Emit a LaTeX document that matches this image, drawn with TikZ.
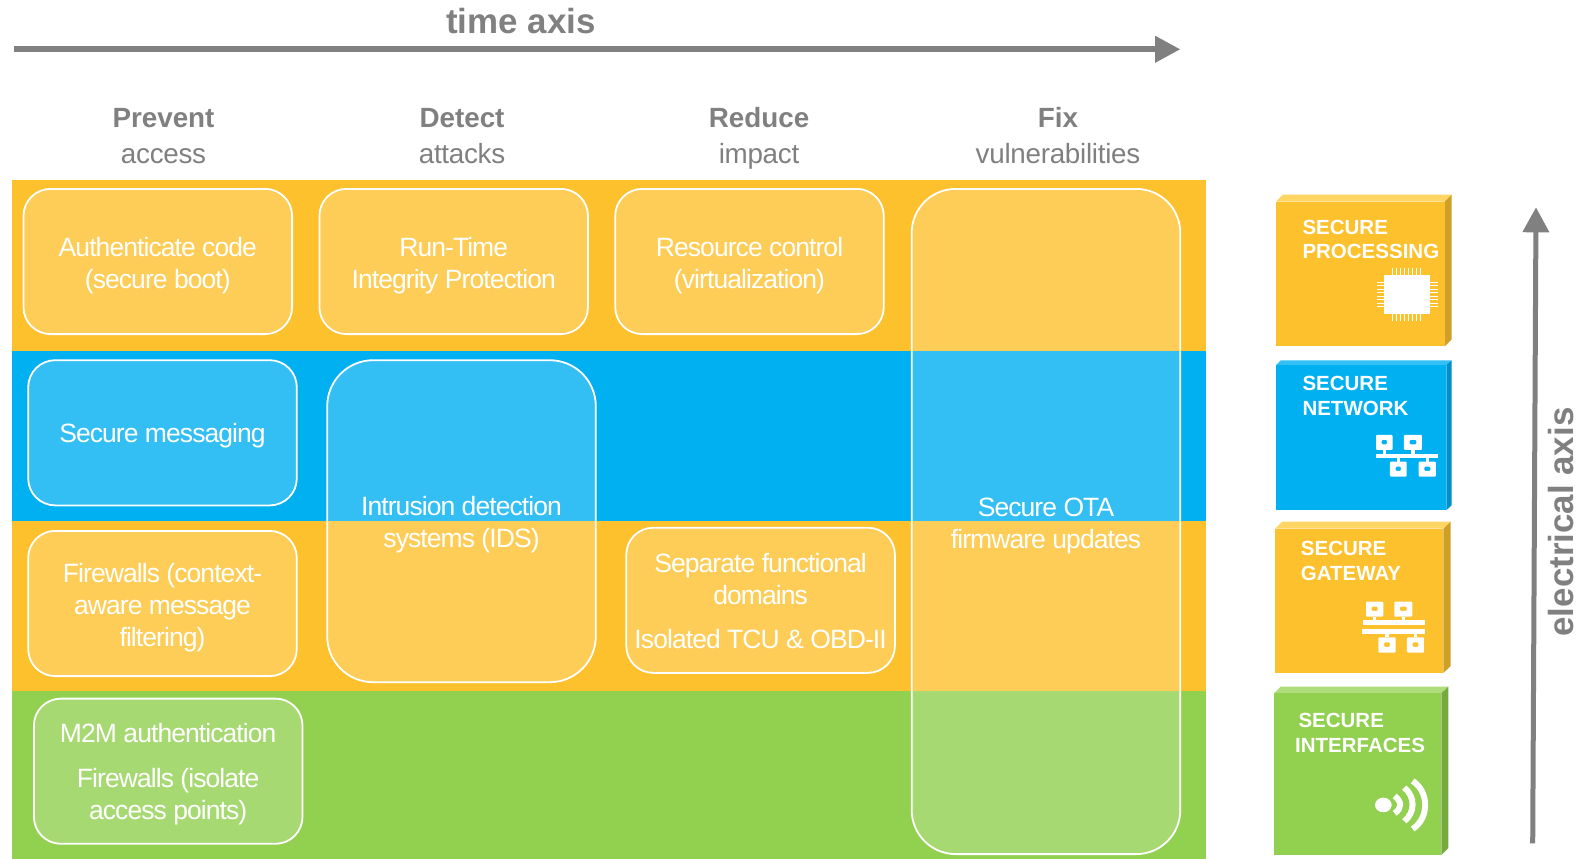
\documentclass[tikz,border=0pt]{standalone}
\usepackage{fontspec}
\setmainfont{Liberation Sans}
\newfontfamily\tightfont[LetterSpace=-3.5]{Liberation Sans}
\newfontfamily\headfont[LetterSpace=-1]{Liberation Sans}
\usetikzlibrary{arrows.meta}
\definecolor{bandorange}{HTML}{FDC12D}
\definecolor{bandblue}{HTML}{00B0F0}
\definecolor{bandgreen}{HTML}{92D050}
\definecolor{axisgrey}{HTML}{808080}
\definecolor{orangetop}{HTML}{FFD564}
\definecolor{orangeside}{HTML}{CFA028}
\definecolor{bluetop}{HTML}{33C0F7}
\definecolor{blueside}{HTML}{0090C8}
\definecolor{greentop}{HTML}{AEDD7C}
\definecolor{greenside}{HTML}{76A93F}
\tikzset{
  roundbox/.style={draw=white,line width=1.8pt,fill=white,fill opacity=0.2,draw opacity=1,text opacity=1,
    rounded corners=#1,inner sep=0pt,outer sep=0pt,text=white,align=center,
    font=\tightfont\fontsize{26.5}{32}\selectfont},
  smallbox/.style={roundbox=27pt,minimum width=268.6pt,minimum height=145.2pt},
  axislabel/.style={text=axisgrey,inner sep=0pt,font=\bfseries\fontsize{34.9}{36}\selectfont},
  headbold/.style={text=axisgrey,anchor=base,inner sep=0pt,font=\bfseries\fontsize{27.8}{30}\selectfont},
  headlight/.style={text=axisgrey,anchor=base,inner sep=0pt,font=\headfont\fontsize{27.8}{30}\selectfont},
  blocktext/.style={text=white,anchor=base west,inner sep=0pt,font=\bfseries\fontsize{20.5}{24}\selectfont},
  axisarrow/.style={draw=axisgrey,line width=#1},
  iconline/.style={draw=white,line width=0.8pt},
  wave/.style={draw=white,line width=6pt},
  zoomA/.style={shift={(1240,180)},x=0.3333pt,y=-0.3333pt},
  zoomB/.style={shift={(1240,500)},x=0.3333pt,y=-0.3333pt},
}
% a small screen of the network icons: left, top, right, bottom
\newcommand{\iconscreen}[4]{%
  \fill[white,even odd rule,rounded corners=1pt] (#1,#2) rectangle (#3,#4)
    ({#1+17},{#2+15}) rectangle ({#3-17},{#4-17});}
% invisible first-line height, which moves a box text down
\newcommand{\lift}[1]{\rule{0pt}{#1pt}}
\begin{document}
\begin{tikzpicture}[x=1pt,y=-1pt]
\path[use as bounding box,fill=white] (0,0) rectangle (1588,859);

% bands
\fill[bandorange] (12,179.5) rectangle (1206,351);
\fill[bandblue] (12,351) rectangle (1206,521);
\fill[bandorange] (12,521) rectangle (1206,691.3);
\fill[bandgreen] (12,691.3) rectangle (1206,859);

% time axis
\coordinate (timestart) at (14,49.3);
\coordinate (timeend) at (1180.4,49.3);
\draw[axisarrow=6pt,-{Triangle[length=25.4pt,width=25.4pt]}] (timestart) -- (timeend);
\node[axislabel,anchor=base] (timelabel) at (521,33.5) {time axis};

% column heads
\node[headbold] (h1) at (163.5,127.7) {Prevent};
\node[headlight] (h1b) at (163.5,163.3) {access};
\node[headbold] (h2) at (462,127.7) {Detect};
\node[headlight] (h2b) at (462,163.3) {attacks};
\node[headbold] (h3) at (759,127.7) {Reduce};
\node[headlight] (h3b) at (759,163.3) {impact};
\node[headbold] (h4) at (1058,127.7) {Fix};
\node[headlight] (h4b) at (1058,163.3) {vulnerabilities};

% rounded boxes
\node[smallbox] (auth) at (157.8,261.5) {\lift{27}Authenticate code\\(secure boot)};
\node[smallbox] (run) at (453.7,261.5) {\lift{27}Run-Time\\Integrity Protection};
\node[smallbox] (res) at (749.5,261.5) {\lift{27}Resource control\\(virtualization)};
\node[roundbox=44pt,minimum width=268.6pt,minimum height=665.2pt] (ota) at (1046,521.5) {\lift{27}Secure OTA\\firmware updates};
\node[smallbox] (msg) at (162.5,432.8) {\lift{25.5}Secure messaging};
\node[roundbox=46pt,minimum width=268.6pt,minimum height=322pt] (ids) at (461.5,521.2) {\lift{27}Intrusion detection\\systems (IDS)};
\node[smallbox] (fire) at (162.5,603.5) {\lift{27}Firewalls (context-\\aware message\\filtering)};
\node[smallbox] (m2m) at (168.2,771.2) {\lift{25.5}M2M authentication\\[13pt]Firewalls (isolate\\access points)};
\node[smallbox] (sep) at (760.6,600.3) {\lift{21.5}Separate functional\\domains\\[12pt]Isolated TCU \& OBD-II};

% block 1
\fill[orangetop] (1276,201.7) -- (1283,194.7) -- (1451.7,194.7) -- (1444.7,201.7) -- cycle;
\fill[orangeside] (1444.7,201.7) -- (1451.7,194.7) -- (1451.7,339.3) -- (1444.7,346.3) -- cycle;
\fill[bandorange] (1276,201.7) rectangle (1444.7,346.3);
\node[blocktext] (b1a) at (1302.3,234) {SECURE};
\node[blocktext] (b1b) at (1302.3,258.4) {PROCESSING};
% block 2
\fill[bluetop] (1276,365) -- (1280.7,360.3) -- (1451.7,360.3) -- (1446.3,365) -- cycle;
\fill[blueside] (1446.3,365) -- (1451.7,360.3) -- (1451.7,505.3) -- (1446.3,510.3) -- cycle;
\fill[bandblue] (1276,365) rectangle (1446.3,510.3);
\node[blocktext] (b2a) at (1302.3,390) {SECURE};
\node[blocktext] (b2b) at (1302.3,415) {NETWORK};
% block 3
\fill[orangetop] (1275,528.7) -- (1282.3,521.7) -- (1450.7,521.7) -- (1443.3,528.7) -- cycle;
\fill[orangeside] (1443.3,528.7) -- (1450.7,521.7) -- (1450.7,666) -- (1443.3,673) -- cycle;
\fill[bandorange] (1275,528.7) rectangle (1443.3,673);
\node[blocktext] (b3a) at (1300.7,555.6) {SECURE};
\node[blocktext] (b3b) at (1300.7,580) {GATEWAY};
% block 4
\fill[greentop] (1274,693.3) -- (1280.7,686.7) -- (1448.3,686.7) -- (1441.3,693.3) -- cycle;
\fill[greenside] (1441.3,693.3) -- (1448.3,686.7) -- (1448.3,848) -- (1441.3,855) -- cycle;
\fill[bandgreen] (1274,693.3) rectangle (1441.3,855);
\node[blocktext] (b4a) at (1298.3,727.6) {SECURE};
\node[blocktext] (b4b) at (1295,752.6) {INTERFACES};

% chip icon
\begin{scope}[zoomA]
  \fill[white] (433,284) rectangle (570,403);
  \foreach \k in {0,...,7}{
    \draw[iconline] ({457+12*\k},263) -- ({457+12*\k},284);
    \draw[iconline] ({457+12*\k},403) -- ({457+12*\k},422);
    \draw[iconline] (411,{307+10.4*\k}) -- (433,{307+10.4*\k});
    \draw[iconline] (570,{307+10.4*\k}) -- (594,{307+10.4*\k});
  }
\end{scope}

% network icon
\begin{scope}[zoomA]
  \iconscreen{408}{765}{458}{810}
  \iconscreen{492}{765}{546}{810}
  \iconscreen{450}{845}{500}{890}
  \iconscreen{536}{845}{588}{890}
  \fill[white] (407,822) rectangle (593,833);
  \fill[white] (428,810) rectangle (438,822);
  \fill[white] (514,810) rectangle (524,822);
  \fill[white] (470,833) rectangle (480,845);
  \fill[white] (557,833) rectangle (567,845);
\end{scope}

% gateway icon
\begin{scope}[zoomB]
  \iconscreen{378}{305}{430}{350}
  \iconscreen{463}{305}{517}{350}
  \iconscreen{415}{412}{467}{458}
  \iconscreen{501}{412}{552}{458}
  \fill[white] (368,360) rectangle (555,376);
  \fill[white] (365,388) rectangle (555,401);
  \fill[white] (399,350) rectangle (409,360);
  \fill[white] (485,350) rectangle (495,360);
  \fill[white] (436,401) rectangle (446,412);
  \fill[white] (522,401) rectangle (532,412);
\end{scope}

% wireless icon
\begin{scope}[zoomB]
  \fill[white] (430,915) ellipse [x radius=25,y radius=22];
  \draw[wave] (464,888) .. controls (486,905) and (486,925) .. (464,940);
  \draw[wave] (493,863) .. controls (526,890) and (526,937) .. (493,964);
  \draw[wave] (518,843) .. controls (568,875) and (568,955) .. (518,987);
\end{scope}

% electrical axis
\coordinate (elecstart) at (1532.7,843.3);
\coordinate (elecend) at (1536,207.3);
\draw[axisarrow=5pt,-{Triangle[length=25pt,width=25.7pt]}] (elecstart) -- (elecend);
\node[axislabel,rotate=90,anchor=base] (eleclabel) at (1573,522) {electrical axis};
\end{tikzpicture}
\end{document}
